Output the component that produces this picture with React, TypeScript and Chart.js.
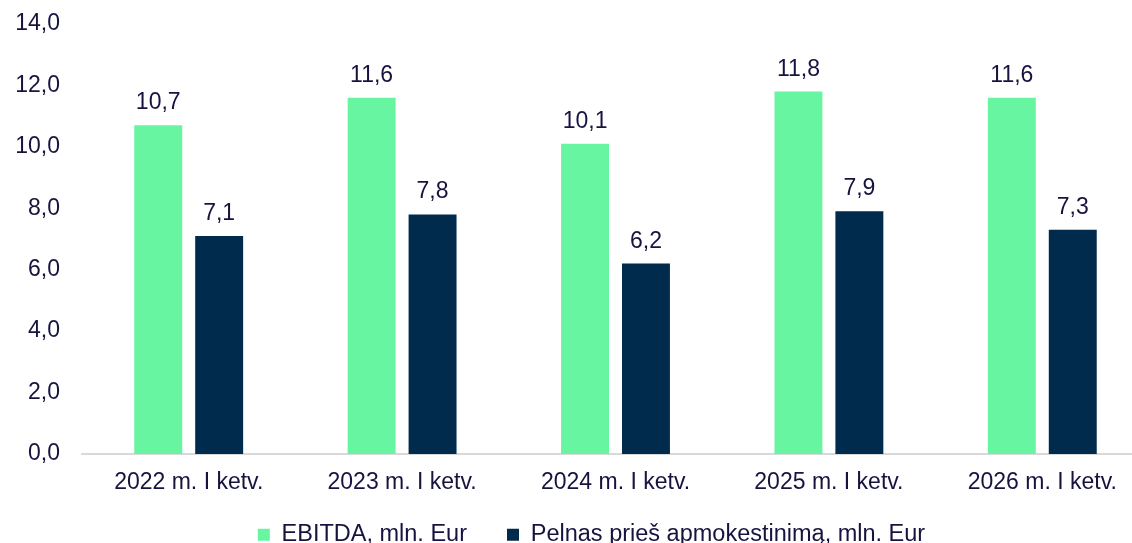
import React, { useEffect, useRef } from 'react';
import { Chart, registerables } from 'chart.js';

Chart.register(...registerables);

const categories = ['2022 m. I ketv.', '2023 m. I ketv.', '2024 m. I ketv.', '2025 m. I ketv.', '2026 m. I ketv.'];
const seriesNames = ['EBITDA, mln. Eur', 'Pelnas prieš apmokestinimą, mln. Eur'];
const ebitda = [10.7, 11.6, 10.1, 11.8, 11.6];
const pelnas = [7.1, 7.8, 6.2, 7.9, 7.3];
const yMin = 0;
const yMax = 14;
const yStep = 2;

const TEXT = '#16133f';
const GREEN = '#68f5a2';
const NAVY = '#002b4d';
const FONT_FAMILY = '"Liberation Sans", Arial, sans-serif';

const fmt = (v: number) => v.toFixed(1).replace('.', ',');

const valueLabels = {
  id: 'valueLabels',
  afterDatasetsDraw(chart: any) {
    const ctx = chart.ctx;
    ctx.save();
    ctx.font = `23px ${FONT_FAMILY}`;
    ctx.fillStyle = TEXT;
    ctx.textAlign = 'center';
    ctx.textBaseline = 'alphabetic';
    chart.data.datasets.forEach((ds: any, i: number) => {
      const meta = chart.getDatasetMeta(i);
      meta.data.forEach((bar: any, j: number) => {
        ctx.fillText(fmt(ds.data[j]), bar.x, bar.y - 16);
      });
    });
    ctx.restore();
  },
};

const LEGEND_RESERVED = 45;
const LEGEND_TOP = 483;
const LEGEND_DX = 17;

const legendPlace = {
  id: 'legendPlace',
  beforeLayout(chart: any) {
    const lg = chart.legend;
    if (lg && !lg._patchedFit) {
      const orig = lg.fit.bind(lg);
      lg.fit = function () {
        orig();
        this.height = LEGEND_RESERVED;
      };
      lg._patchedFit = true;
    }
  },
  afterLayout(chart: any) {
    const lg = chart.legend;
    if (lg) {
      lg.left += LEGEND_DX;
      lg.right += LEGEND_DX;
      lg.top = LEGEND_TOP;
      lg.bottom = LEGEND_TOP + 120;
    }
  },
};

export default function App() {
  const ref = useRef<HTMLCanvasElement | null>(null);

  useEffect(() => {
    if (!ref.current) return;
    const chart = new Chart(ref.current, {
      type: 'bar',
      data: {
        labels: categories,
        datasets: [
          {
            label: seriesNames[0],
            data: ebitda,
            backgroundColor: GREEN,
            categoryPercentage: 0.571,
            barPercentage: 0.787,
          },
          {
            label: seriesNames[1],
            data: pelnas,
            backgroundColor: NAVY,
            categoryPercentage: 0.571,
            barPercentage: 0.787,
          },
        ],
      },
      options: {
        animation: false,
        responsive: false,
        devicePixelRatio: 1,
        layout: { padding: { top: 24, left: 0, right: 1, bottom: 0 } },
        plugins: {
          legend: {
            position: 'bottom',
            labels: {
              boxWidth: 12,
              boxHeight: 12,
              padding: 40,
              color: TEXT,
              font: { family: FONT_FAMILY, size: 23.5 },
            },
          },
          tooltip: { enabled: false },
        },
        scales: {
          x: {
            offset: true,
            grid: { display: false, drawTicks: false },
            border: { display: true, color: '#d9d9d9', width: 2 },
            ticks: { color: TEXT, font: { family: FONT_FAMILY, size: 23 }, padding: 15 },
            afterFit: (s: any) => {
              s.height = 44;
              s.paddingLeft = 0;
              s.paddingRight = 0;
            },
          },
          y: {
            min: yMin,
            max: yMax,
            grid: { display: false, drawTicks: false },
            border: { display: false },
            ticks: {
              stepSize: yStep,
              color: TEXT,
              font: { family: FONT_FAMILY, size: 23 },
              padding: 22,
              callback: (v: any) => fmt(Number(v)),
            },
            afterFit: (s: any) => {
              s.width = 82;
              s.paddingTop = 0;
              s.paddingBottom = 0;
            },
          },
        },
      },
      plugins: [valueLabels, legendPlace],
    });
    return () => chart.destroy();
  }, []);

  return (
    <div style={{ position: 'fixed', left: 0, top: 0, width: 1132, height: 543, overflow: 'hidden', background: '#fff' }}>
      <canvas ref={ref} width={1150} height={543} style={{ display: 'block' }} />
    </div>
  );
}
